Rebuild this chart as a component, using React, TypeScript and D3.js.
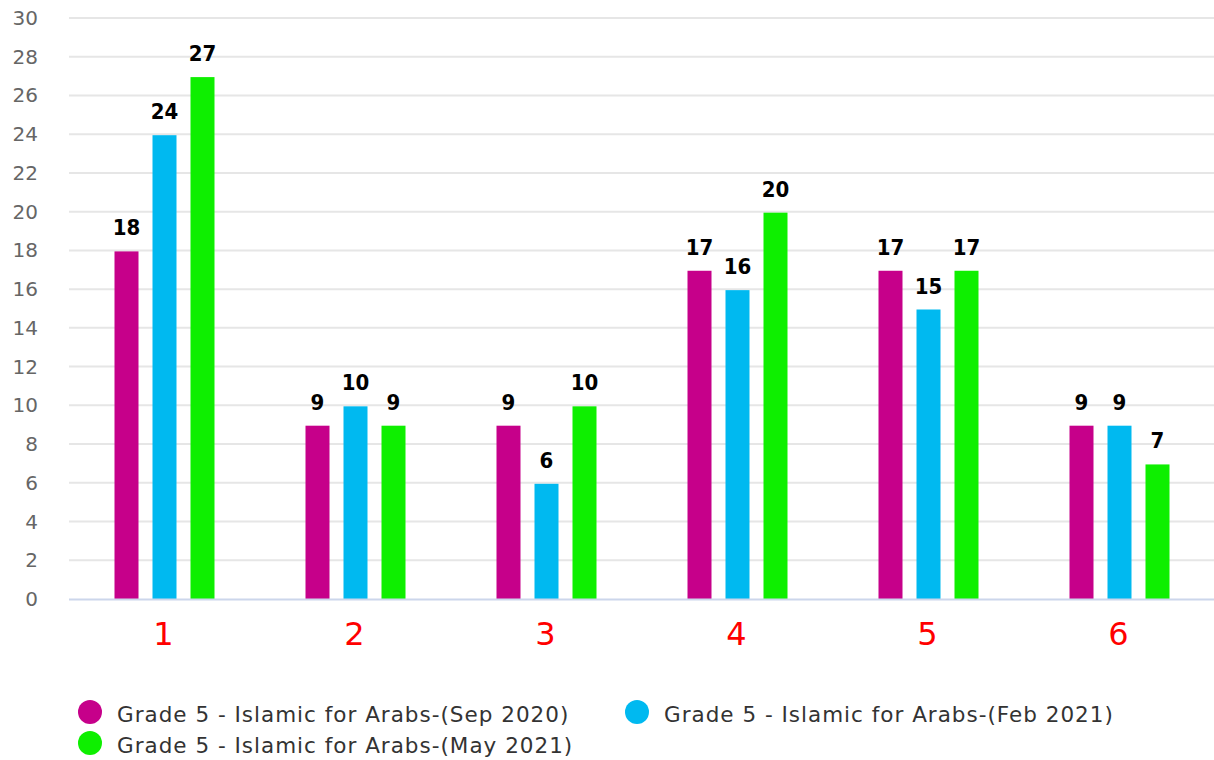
import React from "react";
import * as d3 from "d3";

const categories = ["1", "2", "3", "4", "5", "6"];
const seriesNames = [
  "Grade 5 - Islamic for Arabs-(Sep 2020)",
  "Grade 5 - Islamic for Arabs-(Feb 2021)",
  "Grade 5 - Islamic for Arabs-(May 2021)",
];
const sep2020 = [18, 9, 9, 17, 17, 9];
const feb2021 = [24, 10, 6, 16, 15, 9];
const may2021 = [27, 9, 10, 20, 17, 7];
const yTicks = [0, 2, 4, 6, 8, 10, 12, 14, 16, 18, 20, 22, 24, 26, 28, 30];
const colors = ["#c6008a", "#00b9f0", "#0eef00"];

const W = 1214;
const H = 760;
const plotLeft = 69;
const plotRight = 1215;
const plotTop = 18;
const plotBottom = 599;
const font = "'DejaVu Sans', Verdana, sans-serif";
const condensed = "'DejaVu Sans Condensed', 'DejaVu Sans', sans-serif";

export default function App() {
  const series = [sep2020, feb2021, may2021];
  const x = d3.scaleBand<string>().domain(categories).range([plotLeft, plotRight]).padding(0);
  const y = d3.scaleLinear().domain([0, 30]).range([plotBottom, plotTop]);
  const barW = 24;
  const step = 38;

  return (
    <svg width={W} height={H} style={{ position: "absolute", left: 0, top: 0, background: "#fff" }}>
      {yTicks.map((t) => (
        <g key={t}>
          {t !== 0 && (
            <line x1={plotLeft} x2={W} y1={y(t)} y2={y(t)} stroke="#e6e6e6" strokeWidth={2} />
          )}
          <text
            x={38}
            y={y(t) + 7}
            textAnchor="end"
            fontFamily={font}
            fontSize={20}
            fill="#666"
          >
            {t}
          </text>
        </g>
      ))}
      {categories.map((c, ci) => {
        const cx = (x(c) as number) + x.bandwidth() / 2;
        return (
          <g key={c}>
            {series.map((s, si) => {
              const bx = cx + (si - 1) * step - barW / 2;
              const by = y(s[ci]) + 1;
              return (
                <g key={si}>
                  <rect x={bx} y={by} width={barW} height={plotBottom - by} fill={colors[si]} />
                  <text
                    x={bx + barW / 2}
                    y={by - 16}
                    textAnchor="middle"
                    fontFamily={condensed}
                    fontSize={22}
                    fontWeight="bold"
                    fill="#000"
                  >
                    {s[ci]}
                  </text>
                </g>
              );
            })}
            <text
              x={cx - 1}
              y={645}
              textAnchor="middle"
              fontFamily={font}
              fontSize={32}
              fill="#ff0000"
            >
              {c}
            </text>
          </g>
        );
      })}
      <line x1={plotLeft} x2={W} y1={plotBottom + 0.5} y2={plotBottom + 0.5} stroke="#ccd6eb" strokeWidth={2} />
      {[
        { i: 0, cx: 90, cy: 712 },
        { i: 1, cx: 637, cy: 712 },
        { i: 2, cx: 90, cy: 743 },
      ].map(({ i, cx, cy }) => (
        <g key={i}>
          <circle cx={cx} cy={cy} r={12} fill={colors[i]} />
          <text
            x={cx + 27}
            y={cy + 9.5}
            fontFamily={font}
            fontSize={21.5}
            letterSpacing={1}
            fill="#333"
          >
            {seriesNames[i]}
          </text>
        </g>
      ))}
    </svg>
  );
}
